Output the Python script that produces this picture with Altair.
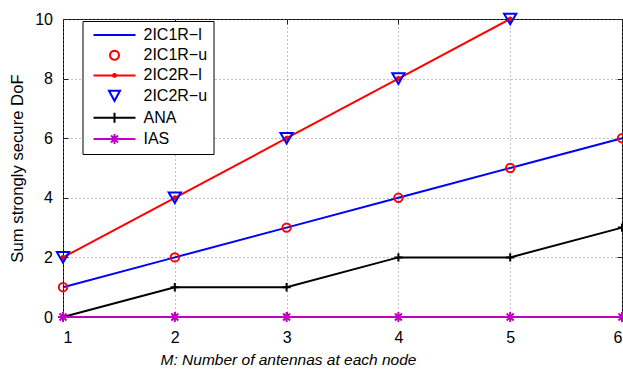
import altair as alt
import pandas as pd
import numpy as np

# ---- data ----
M = [1, 2, 3, 4, 5, 6]
ic1r_l = [1, 2, 3, 4, 5, 6]
ic1r_u = [1, 2, 3, 4, 5, 6]
M2 = [1, 2, 3, 4, 5]
ic2r_l = [2, 4, 6, 8, 10]
ic2r_u = [2, 4, 6, 8, 10]
ana = [0, 1, 1, 2, 2, 3]
ias = [0, 0, 0, 0, 0, 0]

series_names = ["2IC1R−l", "2IC1R−u", "2IC2R−l", "2IC2R−u", "ANA", "IAS"]
series_colors = ["#0000FF", "#FF0000", "#FF0000", "#0000FF", "#000000", "#C000C0"]
y_ticks = [0, 2, 4, 6, 8, 10]

FONT = "Liberation Sans"


def frame(name, xs, ys):
    return pd.DataFrame({"M": xs, "DoF": ys, "series": name})


d_ic1r_l = frame(series_names[0], M, ic1r_l)
d_ic1r_u = frame(series_names[1], M, ic1r_u)
d_ic2r_l = frame(series_names[2], M2, ic2r_l)
d_ic2r_u = frame(series_names[3], M2, ic2r_u)
d_ana = frame(series_names[4], M, ana)
d_ias = frame(series_names[5], M, ias)
d_all = pd.concat([d_ic1r_l, d_ic1r_u, d_ic2r_l, d_ic2r_u, d_ana, d_ias])

# ---- marker glyphs (unit coordinates) ----
def poly(cx, cy, r, n=20):
    pts = []
    for i in range(n):
        a = 2 * np.pi * i / n
        pts.append(f"{cx + r*np.cos(a):.3f},{cy + r*np.sin(a):.3f}")
    return "M" + "L".join(pts) + "Z"

PLUS = "M-1,0L1,0M0,-1L0,1"
STAR = "M-1,0L1,0M0,-1L0,1M-0.7,-0.7L0.7,0.7M-0.7,0.7L0.7,-0.7"

# legend glyphs: line segment + marker
L0, L1, MC = -0.6, 7.8, 3.6
seg = f"M{L0},0L{L1},0"
legend_shapes = [
    seg,
    poly(MC, 0, 0.9),
    seg + poly(MC, 0, 0.3, 10),
    f"M{MC-1.1},-0.95L{MC+1.1},-0.95L{MC},1.05Z",
    seg + f"M{MC},-1L{MC},1",
    seg + f"M{MC-1},0L{MC+1},0M{MC},-1L{MC},1M{MC-0.7},-0.7L{MC+0.7},0.7M{MC-0.7},0.7L{MC+0.7},-0.7",
]

xscale = alt.Scale(domain=[1, 6], nice=False, zero=False)
yscale = alt.Scale(domain=[0, 10], nice=False, zero=False)

x_main = alt.X("M:Q", scale=xscale, axis=alt.Axis(
    orient="bottom", values=M, format="d", offset=-5, tickSize=5, labelPadding=12,
    grid=True, domain=False, title="M: Number of antennas at each node",
    titleFontStyle="italic", titleFontSize=15.5, titlePadding=7, titleX=225, titleAlign="center"))
y_main = alt.Y("DoF:Q", scale=yscale, axis=alt.Axis(
    orient="left", values=y_ticks, format="d", offset=-5, tickSize=5, labelPadding=10.5,
    grid=True, domain=False, title="Sum strongly secure DoF", titleFontSize=16.7, titlePadding=8))
x_top = alt.X("M:Q", scale=xscale, axis=alt.Axis(
    orient="top", values=M, offset=-5, tickSize=5, labels=False, grid=False,
    domain=False, title=None))
y_right = alt.Y("DoF:Q", scale=yscale, axis=alt.Axis(
    orient="right", values=y_ticks, offset=-5, tickSize=5, labels=False, grid=False,
    domain=False, title=None))
x_none = alt.X("M:Q", scale=xscale, axis=None)
y_none = alt.Y("DoF:Q", scale=yscale, axis=None)

LW = 2

l_ic1r_l = alt.Chart(d_ic1r_l).mark_line(color=series_colors[0], strokeWidth=LW).encode(x=x_main, y=y_main)
p_ic1r_u = alt.Chart(d_ic1r_u).mark_point(shape="circle", filled=False, size=70, strokeWidth=LW,
                                          color=series_colors[1], opacity=1).encode(x=x_none, y=y_none)
l_ic2r_l = alt.Chart(d_ic2r_l).mark_line(color=series_colors[2], strokeWidth=LW).encode(x=x_none, y=y_none)
p_ic2r_l = alt.Chart(d_ic2r_l).mark_point(shape="circle", filled=True, size=25,
                                          color=series_colors[2], opacity=1).encode(x=x_none, y=y_none)
p_ic2r_u = alt.Chart(d_ic2r_u).mark_point(shape="triangle-down", filled=False, size=150, strokeWidth=LW,
                                          color=series_colors[3], opacity=1).encode(x=x_none, y=y_none)
l_ana = alt.Chart(d_ana).mark_line(color=series_colors[4], strokeWidth=LW).encode(x=x_none, y=y_none)
p_ana = alt.Chart(d_ana).mark_point(shape=PLUS, filled=False, size=70, strokeWidth=LW,
                                    color=series_colors[4], opacity=1).encode(x=x_none, y=y_none)
l_ias = alt.Chart(d_ias).mark_line(color=series_colors[5], strokeWidth=LW).encode(x=x_none, y=y_none)
p_ias = alt.Chart(d_ias).mark_point(shape=STAR, filled=False, size=100, strokeWidth=LW,
                                    color=series_colors[5], opacity=1).encode(x=x_none, y=y_none)

legend = alt.Legend(
    title=None, orient="none", legendX=19.5, legendY=2,
    padding=6, rowPadding=3.2, labelOffset=39, symbolSize=100, symbolStrokeWidth=2,
    labelFont=FONT, labelFontSize=16, labelColor="#000000", labelLimit=300,
    strokeColor="#000000", fillColor="#FFFFFF", cornerRadius=0,
)
legend_layer = alt.Chart(d_all).mark_point(opacity=0, filled=False).encode(
    x=x_top, y=y_right,
    color=alt.Color("series:N", scale=alt.Scale(domain=series_names, range=series_colors), legend=legend),
    shape=alt.Shape("series:N", scale=alt.Scale(domain=series_names, range=legend_shapes), legend=legend),
)

chart = alt.layer(
    l_ic1r_l, legend_layer, p_ic1r_u, l_ic2r_l, p_ic2r_l, p_ic2r_u, l_ana, p_ana, l_ias, p_ias
).resolve_axis(x="independent", y="independent").properties(
    width=559, height=298,
    autosize=alt.AutoSizeParams(type="none"),
    padding={"left": 63, "top": 19, "right": 1, "bottom": 53},
    background="#FFFFFF",
).configure_view(
    stroke="#000000", strokeWidth=1
).configure_axis(
    labelFont=FONT, labelFontSize=16, labelColor="#000000",
    titleFont=FONT, titleFontSize=16, titleColor="#000000", titleFontWeight="normal",
    tickColor="#222222", tickWidth=1,
    gridColor="#808080", gridDash=[1, 3], gridWidth=1, gridOpacity=1,
)

chart.save("out.html", embed_options={"renderer": "svg", "actions": False})
